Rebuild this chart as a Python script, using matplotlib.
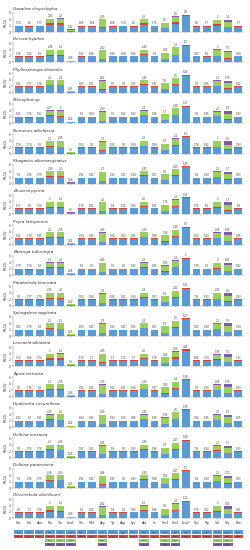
import matplotlib
matplotlib.use("Agg")
import matplotlib.pyplot as plt
from matplotlib.patches import Rectangle

amino_acids = ["Gln", "His", "Asn", "Pro", "Thr", "Leu1", "Glu", "Met", "Arg", "Tyr", "Asp",
               "Lys", "Ala", "Ile", "Ser1", "Ser2", "Leu2", "Cys", "Trp", "Val", "Gly", "Phe"]

codons = [["CAA", "CAG"], ["CAU", "CAC"], ["AAU", "AAC"],
          ["CCU", "CCC", "CCA", "CCG"], ["ACU", "ACC", "ACA", "ACG"], ["CUU", "CUC", "CUA", "CUG"],
          ["GAA", "GAG"], ["AUA", "AUG"], ["CGU", "CGC", "CGA", "CGG"], ["UAU", "UAC"],
          ["GAU", "GAC"], ["AAA", "AAG"], ["GCU", "GCC", "GCA", "GCG"], ["AUU", "AUC"],
          ["AGU", "AGC", "AGA", "AGG"], ["UCU", "UCC", "UCA", "UCG"], ["UUA", "UUG"],
          ["UGU", "UGC"], ["UGA", "UGG"], ["GUU", "GUC", "GUA", "GUG"],
          ["GGU", "GGC", "GGA", "GGG"], ["UUU", "UUC"]]

species = ["Gazalina chrysolopha", "Deroca hyalina", "Phyllosphingia dissimilis", "Menophra sp.",
           "Numenes albofascia", "Rhagastis albomarginatus", "Zeuzera pyrina", "Psyra falcipennis",
           "Zaranga tukuringra", "Parabeleda femorata", "Spiragalera sagittata", "Leocaela albidaria",
           "Apoia tortuosa", "Hyalinetta circumflexa", "Dolbina inexacta", "Dolbina paraexacta",
           "Olivenebula oberthueri"]

# RSCU per codon, one tuple per amino acid (same order as codons)
gazalina = [(1.74, 0.26), (1.6, 0.4), (1.77, 0.23), (2.05, 0.8, 1.1, 0.15), (2.2, 0.7, 1.2, 0.1),
            (0.3, 0.05, 0.42, 0.02), (1.69, 0.31), (1.66, 0.34), (1.3, 0.15, 2.45, 0.1), (1.66, 0.34),
            (1.74, 0.26), (1.6, 0.4), (2.3, 0.55, 1.05, 0.1), (1.75, 0.25), (1.1, 0.2, 1.5, 0.05),
            (2.5, 0.7, 1.6, 0.1), (4.9, 0.5), (1.6, 0.4), (1.7, 0.3), (2.0, 0.4, 1.2, 0.2),
            (1.4, 0.2, 1.4, 0.8), (1.7, 0.3)]
deroca = [(1.76, 0.24), (1.82, 0.18), (1.8, 0.2), (2.06, 0.2, 1.6, 0.1), (2.1, 0.12, 1.7, 0.05),
          (0.18, 0.02, 0.28, 0.0), (1.82, 0.18), (1.86, 0.14), (0.9, 0.05, 2.82, 0.1), (1.85, 0.15),
          (1.84, 0.16), (1.86, 0.14), (2.42, 0.15, 1.35, 0.05), (1.9, 0.1), (0.9, 0.05, 2.05, 0.05),
          (2.3, 0.12, 2.2, 0.08), (5.2, 0.3), (1.83, 0.17), (1.8, 0.2), (2.0, 0.1, 1.8, 0.1),
          (1.2, 0.08, 1.9, 0.5), (1.84, 0.16)]
phyllosphingia = [(1.81, 0.19), (1.77, 0.23), (1.78, 0.22), (2.3, 0.25, 1.3, 0.1), (2.4, 0.15, 1.35, 0.05),
                  (0.25, 0.02, 0.2, 0.01), (1.83, 0.17), (1.81, 0.19), (1.0, 0.1, 2.62, 0.1), (1.8, 0.2),
                  (1.8, 0.2), (1.82, 0.18), (2.45, 0.2, 1.2, 0.05), (1.85, 0.15), (1.1, 0.1, 1.8, 0.05),
                  (2.5, 0.2, 1.85, 0.05), (5.28, 0.35), (1.8, 0.2), (1.85, 0.15), (2.1, 0.15, 1.5, 0.15),
                  (1.3, 0.1, 1.75, 0.6), (1.82, 0.18)]
menophra = [(1.81, 0.19), (1.76, 0.24), (1.82, 0.18), (2.27, 0.4, 1.2, 0.1), (2.0, 0.2, 1.66, 0.1),
            (0.22, 0.02, 0.18, 0.01), (1.8, 0.2), (1.84, 0.16), (0.7, 0.05, 2.83, 0.2), (1.8, 0.2),
            (1.82, 0.18), (1.83, 0.17), (2.4, 0.2, 1.3, 0.1), (1.86, 0.14), (1.0, 0.1, 1.7, 0.05),
            (2.48, 0.2, 1.9, 0.1), (5.17, 0.3), (1.8, 0.2), (1.85, 0.15), (2.1, 0.2, 1.3, 0.2),
            (1.1, 0.1, 1.8, 0.9), (1.83, 0.17)]
numenes = [(1.78, 0.22), (1.74, 0.26), (1.8, 0.2), (2.1, 0.3, 1.4, 0.1), (2.05, 0.15, 1.7, 0.1),
           (0.2, 0.02, 0.3, 0.01), (1.82, 0.18), (1.8, 0.2), (0.95, 0.1, 2.7, 0.15), (1.82, 0.18),
           (1.8, 0.2), (1.84, 0.16), (2.3, 0.2, 1.4, 0.1), (1.88, 0.12), (1.0, 0.1, 1.9, 0.05),
           (2.4, 0.2, 2.0, 0.1), (5.1, 0.35), (1.78, 0.22), (1.82, 0.18), (2.0, 0.2, 1.6, 0.2),
           (1.2, 0.1, 1.5, 1.0), (1.84, 0.16)]
rhagastis = [(1.8, 0.2), (1.76, 0.24), (1.79, 0.21), (2.26, 0.25, 1.4, 0.1), (2.3, 0.15, 1.45, 0.05),
             (0.24, 0.02, 0.2, 0.01), (1.81, 0.19), (1.82, 0.18), (0.95, 0.1, 2.7, 0.1), (1.83, 0.17),
             (1.81, 0.19), (1.84, 0.16), (2.45, 0.2, 1.25, 0.05), (1.87, 0.13), (1.1, 0.1, 1.8, 0.05),
             (2.45, 0.2, 1.9, 0.05), (5.25, 0.32), (1.8, 0.2), (1.84, 0.16), (2.1, 0.15, 1.5, 0.15),
             (1.3, 0.1, 1.7, 0.7), (1.83, 0.17)]
zeuzera = [(1.77, 0.23), (1.8, 0.2), (1.78, 0.22), (2.0, 0.3, 1.5, 0.1), (2.1, 0.2, 1.55, 0.1),
           (0.3, 0.02, 0.25, 0.02), (1.79, 0.21), (1.81, 0.19), (1.1, 0.1, 2.5, 0.1), (1.8, 0.2),
           (1.82, 0.18), (1.83, 0.17), (2.2, 0.25, 1.4, 0.1), (1.85, 0.15), (1.1, 0.1, 1.75, 0.05),
           (2.3, 0.25, 2.0, 0.1), (5.02, 0.4), (1.75, 0.25), (1.8, 0.2), (2.0, 0.2, 1.5, 0.2),
           (1.2, 0.15, 1.7, 0.8), (1.8, 0.2)]
psyra = [(1.82, 0.18), (1.78, 0.22), (1.81, 0.19), (2.2, 0.25, 1.4, 0.1), (2.15, 0.15, 1.6, 0.1),
         (0.2, 0.02, 0.22, 0.01), (1.84, 0.16), (1.83, 0.17), (0.85, 0.05, 2.85, 0.15), (1.84, 0.16),
         (1.83, 0.17), (1.85, 0.15), (2.35, 0.2, 1.35, 0.1), (1.88, 0.12), (1.0, 0.05, 1.95, 0.05),
         (2.45, 0.15, 2.0, 0.1), (5.3, 0.28), (1.82, 0.18), (1.84, 0.16), (2.05, 0.15, 1.6, 0.2),
         (1.2, 0.1, 1.85, 0.7), (1.85, 0.15)]
zaranga = [(1.79, 0.21), (1.74, 0.26), (1.8, 0.2), (2.1, 0.35, 1.4, 0.1), (2.2, 0.2, 1.5, 0.1),
           (0.26, 0.03, 0.25, 0.02), (1.8, 0.2), (1.8, 0.2), (1.0, 0.1, 2.65, 0.15), (1.8, 0.2),
           (1.8, 0.2), (1.82, 0.18), (2.3, 0.3, 1.3, 0.1), (1.85, 0.15), (1.05, 0.1, 1.85, 0.05),
           (2.4, 0.25, 1.9, 0.1), (5.0, 0.4), (1.78, 0.22), (1.8, 0.2), (2.0, 0.2, 1.5, 0.2),
           (1.25, 0.15, 1.65, 0.8), (1.82, 0.18)]
parabeleda = [(1.8, 0.2), (1.77, 0.23), (1.79, 0.21), (2.15, 0.25, 1.5, 0.1), (2.2, 0.15, 1.55, 0.1),
              (0.22, 0.02, 0.22, 0.01), (1.82, 0.18), (1.84, 0.16), (0.9, 0.05, 2.8, 0.1), (1.82, 0.18),
              (1.81, 0.19), (1.84, 0.16), (2.4, 0.2, 1.3, 0.1), (1.87, 0.13), (1.0, 0.05, 1.9, 0.05),
              (2.42, 0.18, 1.95, 0.05), (5.22, 0.3), (1.8, 0.2), (1.83, 0.17), (2.05, 0.15, 1.6, 0.15),
              (1.2, 0.1, 1.8, 0.7), (1.84, 0.16)]
spiragalera = [(1.81, 0.19), (1.79, 0.21), (1.8, 0.2), (2.2, 0.3, 1.4, 0.1), (2.1, 0.15, 1.65, 0.1),
               (0.2, 0.02, 0.25, 0.01), (1.83, 0.17), (1.82, 0.18), (0.8, 0.05, 2.9, 0.15), (1.83, 0.17),
               (1.82, 0.18), (1.85, 0.15), (2.4, 0.2, 1.3, 0.1), (1.87, 0.13), (1.0, 0.05, 1.9, 0.05),
               (2.5, 0.15, 1.95, 0.1), (5.27, 0.3), (1.82, 0.18), (1.84, 0.16), (2.1, 0.15, 1.55, 0.2),
               (1.15, 0.1, 1.9, 0.75), (1.84, 0.16)]
leocaela = [(1.72, 0.28), (1.66, 0.34), (1.74, 0.26), (2.0, 0.6, 1.2, 0.15), (2.1, 0.45, 1.35, 0.1),
            (0.28, 0.05, 0.3, 0.03), (1.72, 0.28), (1.7, 0.3), (1.1, 0.2, 2.45, 0.2), (1.7, 0.3),
            (1.72, 0.28), (1.7, 0.3), (2.2, 0.45, 1.2, 0.1), (1.78, 0.22), (1.05, 0.15, 1.65, 0.05),
            (2.35, 0.45, 1.75, 0.1), (4.85, 0.5), (1.68, 0.32), (1.74, 0.26), (1.95, 0.35, 1.3, 0.25),
            (1.3, 0.2, 1.5, 0.85), (1.72, 0.28)]
apoia = [(1.8, 0.2), (1.76, 0.24), (1.8, 0.2), (2.1, 0.25, 1.5, 0.1), (2.15, 0.15, 1.6, 0.1),
         (0.24, 0.02, 0.24, 0.01), (1.82, 0.18), (1.82, 0.18), (0.9, 0.05, 2.75, 0.15), (1.82, 0.18),
         (1.81, 0.19), (1.84, 0.16), (2.35, 0.2, 1.35, 0.1), (1.87, 0.13), (1.0, 0.08, 1.85, 0.05),
         (2.4, 0.2, 1.95, 0.1), (5.18, 0.32), (1.8, 0.2), (1.83, 0.17), (2.05, 0.15, 1.55, 0.2),
         (1.2, 0.1, 1.75, 0.8), (1.83, 0.17)]
hyalinetta = [(1.82, 0.18), (1.8, 0.2), (1.81, 0.19), (2.25, 0.2, 1.45, 0.1), (2.2, 0.15, 1.6, 0.05),
              (0.2, 0.01, 0.22, 0.01), (1.84, 0.16), (1.85, 0.15), (0.85, 0.05, 2.85, 0.1), (1.84, 0.16),
              (1.83, 0.17), (1.86, 0.14), (2.45, 0.15, 1.3, 0.05), (1.89, 0.11), (1.0, 0.05, 1.95, 0.05),
              (2.5, 0.15, 2.0, 0.05), (5.35, 0.25), (1.82, 0.18), (1.85, 0.15), (2.1, 0.1, 1.6, 0.15),
              (1.2, 0.08, 1.9, 0.65), (1.85, 0.15)]
dolbina_in = [(1.8, 0.2), (1.75, 0.25), (1.78, 0.22), (2.3, 0.25, 1.35, 0.1), (2.35, 0.15, 1.4, 0.05),
              (0.25, 0.02, 0.2, 0.01), (1.81, 0.19), (1.81, 0.19), (1.0, 0.1, 2.65, 0.1), (1.8, 0.2),
              (1.8, 0.2), (1.83, 0.17), (2.45, 0.2, 1.25, 0.05), (1.86, 0.14), (1.1, 0.1, 1.8, 0.05),
              (2.47, 0.2, 1.9, 0.05), (5.28, 0.32), (1.8, 0.2), (1.84, 0.16), (2.1, 0.15, 1.5, 0.15),
              (1.3, 0.1, 1.7, 0.65), (1.83, 0.17)]
dolbina_para = [(1.8, 0.2), (1.76, 0.24), (1.79, 0.21), (2.28, 0.25, 1.35, 0.1), (2.33, 0.15, 1.42, 0.05),
                (0.25, 0.02, 0.21, 0.01), (1.81, 0.19), (1.82, 0.18), (1.0, 0.1, 2.66, 0.1), (1.81, 0.19),
                (1.8, 0.2), (1.83, 0.17), (2.44, 0.2, 1.27, 0.05), (1.86, 0.14), (1.1, 0.1, 1.82, 0.05),
                (2.47, 0.2, 1.92, 0.05), (5.3, 0.3), (1.8, 0.2), (1.84, 0.16), (2.1, 0.15, 1.52, 0.15),
                (1.3, 0.1, 1.72, 0.65), (1.83, 0.17)]
olivenebula = [(1.8, 0.2), (1.7, 0.3), (1.78, 0.22), (2.0, 0.45, 1.3, 0.15), (2.1, 0.25, 1.5, 0.1),
               (0.24, 0.03, 0.28, 0.02), (1.8, 0.2), (1.82, 0.18), (0.95, 0.1, 2.62, 0.15), (1.8, 0.2),
               (1.8, 0.2), (1.83, 0.17), (2.3, 0.25, 1.35, 0.1), (1.86, 0.14), (1.05, 0.1, 1.8, 0.05),
               (2.4, 0.25, 1.87, 0.1), (5.12, 0.35), (1.79, 0.21), (1.82, 0.18), (2.0, 0.2, 1.55, 0.2),
               (1.25, 0.15, 1.65, 0.8), (1.81, 0.19)]

rscu = [gazalina, deroca, phyllosphingia, menophra, numenes, rhagastis, zeuzera, psyra, zaranga,
        parabeleda, spiragalera, leocaela, apoia, hyalinetta, dolbina_in, dolbina_para, olivenebula]

colors = ["#5b9bd5", "#d0473a", "#9ccf5e", "#7e5ca8"]

W, H = 250, 550
fig = plt.figure(figsize=(W / 100, H / 100), dpi=100)

left, right = 13, 244
pitch = 30.4
x = list(range(len(amino_acids)))


def fmt(v):
    # 2 decimals, trailing zeros dropped
    return f"{v:.2f}".rstrip("0").rstrip(".")


for i, (name, data) in enumerate(zip(species, rscu)):
    bottom_px = 32 + pitch * i
    top_px = bottom_px - 20
    ax = fig.add_axes([left / W, 1 - bottom_px / H, (right - left) / W, (bottom_px - top_px) / H])
    for j, vals in enumerate(data):
        base = 0
        for k, v in enumerate(vals):
            ax.bar(j, v, bottom=base, width=0.74, color=colors[k], linewidth=0)
            base += v
        ax.text(j, base + 0.12, fmt(max(vals)), ha="center", va="bottom", fontsize=1.8, color="#333333")
    ax.set_xlim(-0.55, len(amino_acids) - 0.45)
    ax.set_ylim(0, 6.2)
    ax.set_yticks([0, 2, 4, 6])
    ax.tick_params(axis="y", labelsize=2.2, length=1, width=0.3, pad=0.5, colors="#444444")
    ax.set_xticks(x)
    ax.tick_params(axis="x", length=1, width=0.3, pad=0.8, colors="#444444")
    if i == len(species) - 1:
        ax.set_xticklabels(amino_acids, fontsize=2.3, color="#333333")
    else:
        ax.set_xticklabels([])
    for s in ["top", "right"]:
        ax.spines[s].set_visible(False)
    for s in ["left", "bottom"]:
        ax.spines[s].set_linewidth(0.3)
        ax.spines[s].set_color("#888888")
    ax.set_ylabel("RSCU", fontsize=2.4, labelpad=1, color="#333333")
    ax.set_title(name, fontsize=3.0, style="italic", loc="left", pad=1.5, color="#333333")

# codon boxes below the last panel
box_top, row_h = 530, 4.2
bx = fig.add_axes([left / W, 1 - (box_top + 4 * row_h) / H, (right - left) / W, 4 * row_h / H])
bx.set_xlim(-0.55, len(amino_acids) - 0.45)
bx.set_ylim(4, 0)
bx.axis("off")
for j, cods in enumerate(codons):
    for k, c in enumerate(cods):
        bx.add_patch(Rectangle((j - 0.45, k + 0.08), 0.9, 0.84, facecolor=colors[k], edgecolor="none"))
        bx.text(j, k + 0.5, c, ha="center", va="center", fontsize=1.6, color="#222222")

fig.savefig("out.png", dpi=100)
